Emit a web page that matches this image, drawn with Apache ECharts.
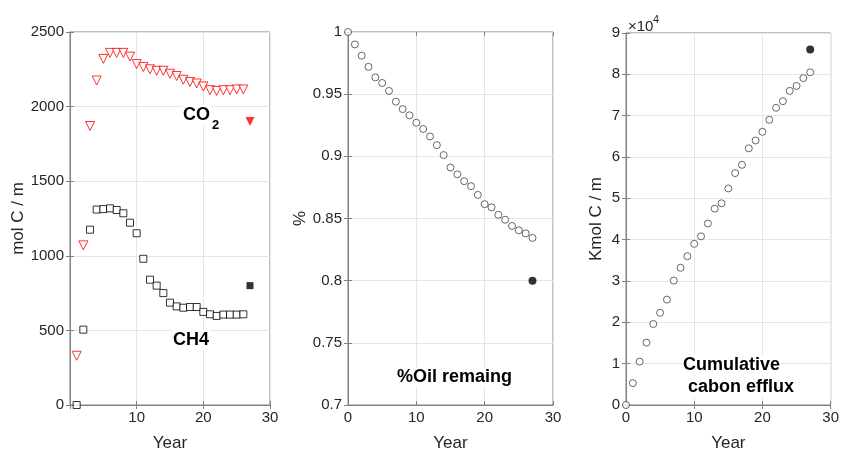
<!DOCTYPE html>
<html>
<head>
<meta charset="utf-8">
<script src="https://cdn.jsdelivr.net/npm/echarts@6/dist/echarts.min.js"></script>
<style>
  html, body { margin: 0; padding: 0; background: #fff; }
  #chart { width: 842px; height: 457px; }
</style>
</head>
<body>
<div id="chart"></div>
<script>
// panel 1 : gas produced (mol C / m)
let years1 = [1,2,3,4,5,6,7,8,9,10,11,12,13,14,15,16,17,18,19,20,21,22,23,24,25,26];
let co2Data = [330,1070,1870,2175,2320,2360,2360,2360,2335,2285,2265,2250,2240,2240,2220,2205,2180,2165,2155,2135,2110,2105,2110,2110,2115,2115];
let ch4Data = [0,505,1175,1310,1313,1318,1307,1285,1222,1151,980,840,800,750,686,661,652,657,657,624,608,597,606,606,606,608];
let co2Obs = [[27, 1900]];
let ch4Obs = [[27, 800]];

// panel 2 : fraction of oil remaining
let years2 = [0,1,2,3,4,5,6,7,8,9,10,11,12,13,14,15,16,17,18,19,20,21,22,23,24,25,26,27];
let oilData = [1.0,0.990,0.981,0.972,0.9635,0.959,0.9526,0.944,0.938,0.933,0.927,0.922,0.916,0.909,0.901,0.891,0.8855,0.880,0.876,0.869,0.8615,0.859,0.853,0.849,0.844,0.8405,0.838,0.8344];
let oilObs = [[27, 0.80]];

// panel 3 : cumulative carbon efflux (Kmol C / m)
let effluxData = [0,5300,10500,15100,19600,22300,25500,30100,33200,36000,39000,40800,43900,47500,48800,52400,56100,58100,62100,64000,66100,69000,71900,73500,76000,77200,79100,80500];
let effluxObs = [[27, 86000]];

let yTicks1 = {min: 0, max: 2500, interval: 500};
let yTicks2 = {min: 0.7, max: 1, interval: 0.05};
let yTicks3 = {min: 0, max: 90000, interval: 10000};

let axisGray = '#808080';
let labelColor = '#262626';
let fontFam = '"Liberation Sans", Arial, sans-serif';

let grids = [
	{left: 70, top: 32, width: 200, height: 375},
	{left: 348, top: 32, width: 205, height: 376},
	{left: 626, top: 33, width: 208, height: 379}
];

function pairs(xs, ys){
	return ys.map((v, i) => [xs[i], v]);
}

function xAxisFor(idx, hideMin){
	return {
		gridIndex: idx, type: 'value', min: 0, max: 30, interval: 10,
		name: 'Year', nameLocation: 'middle', nameGap: 30,
		nameTextStyle: {color: labelColor, fontSize: 17, fontFamily: fontFam},
		axisLine: {show: true, onZero: false, lineStyle: {color: axisGray}},
		axisTick: {show: true, inside: true, length: 4, lineStyle: {color: axisGray}},
		axisLabel: {color: labelColor, fontSize: 15, fontFamily: fontFam, margin: 5, showMinLabel: !hideMin},
		splitLine: {show: true, lineStyle: {color: '#e6e6e6'}}
	};
}

function yAxisFor(idx, ticks, name, gap, fmt){
	return {
		gridIndex: idx, type: 'value', min: ticks.min, max: ticks.max, interval: ticks.interval,
		name: name, nameLocation: 'middle', nameGap: gap,
		nameTextStyle: {color: labelColor, fontSize: 17, fontFamily: fontFam},
		axisLine: {show: true, onZero: false, lineStyle: {color: axisGray}},
		axisTick: {show: true, inside: true, length: 4, lineStyle: {color: axisGray}},
		axisLabel: {color: labelColor, fontSize: 15, fontFamily: fontFam, margin: 6, formatter: fmt},
		splitLine: {show: true, lineStyle: {color: '#e6e6e6'}}
	};
}

// top / right axes only carry the inward ticks of the box
function topAxis(idx){
	return {gridIndex: idx, type: 'value', position: 'top', min: 0, max: 30, interval: 10,
		axisLine: {show: false}, axisLabel: {show: false}, splitLine: {show: false},
		axisTick: {show: true, inside: true, length: 4, lineStyle: {color: axisGray}}};
}
function rightAxis(idx, ticks){
	return {gridIndex: idx, type: 'value', position: 'right', min: ticks.min, max: ticks.max, interval: ticks.interval,
		axisLine: {show: false}, axisLabel: {show: false}, splitLine: {show: false},
		axisTick: {show: true, inside: true, length: 4, lineStyle: {color: axisGray}}};
}

let hollow = (c) => ({color: '#fff', borderColor: c, borderWidth: 1});

// bold annotation with white box (hides grid lines behind it)
function note(x, y, text, size){
	return {type: 'text', x: x, y: y, z: 50, style: {text: text, font: 'bold ' + (size || 18) + 'px ' + fontFam,
		fill: '#000', verticalAlign: 'middle', backgroundColor: '#fff', padding: [1, 1]}};
}

let option = {
	animation: false,
	backgroundColor: '#fff',
	grid: grids.map(g => Object.assign({show: true, borderColor: axisGray, borderWidth: 1, backgroundColor: 'transparent'}, g)),
	xAxis: [xAxisFor(0, true), xAxisFor(1, false), xAxisFor(2, false), topAxis(0), topAxis(1), topAxis(2)],
	yAxis: [
		yAxisFor(0, yTicks1, 'mol C / m', 42, v => String(v)),
		yAxisFor(1, yTicks2, '%', 38, v => String(Math.round(v * 100) / 100)),
		yAxisFor(2, yTicks3, 'Kmol C / m', 21, v => String(Math.round(v / 10000))),
		rightAxis(0, yTicks1), rightAxis(1, yTicks2), rightAxis(2, yTicks3)
	],
	series: [
		{name: 'CO2', type: 'scatter', xAxisIndex: 0, yAxisIndex: 0, symbol: 'triangle', symbolRotate: 180,
			symbolSize: 9, itemStyle: hollow('#ff0000'), data: pairs(years1, co2Data)},
		{name: 'CO2 obs', type: 'scatter', xAxisIndex: 0, yAxisIndex: 0, symbol: 'triangle', symbolRotate: 180,
			symbolSize: 9, itemStyle: {color: '#ff0000'}, data: co2Obs},
		{name: 'CH4', type: 'scatter', xAxisIndex: 0, yAxisIndex: 0, symbol: 'rect',
			symbolSize: 7, itemStyle: hollow('#000'), data: pairs(years1, ch4Data)},
		{name: 'CH4 obs', type: 'scatter', xAxisIndex: 0, yAxisIndex: 0, symbol: 'rect',
			symbolSize: 7, itemStyle: {color: '#000'}, data: ch4Obs},
		{name: 'Oil', type: 'scatter', xAxisIndex: 1, yAxisIndex: 1, symbol: 'circle',
			symbolSize: 7, itemStyle: hollow('#444'), data: pairs(years2, oilData)},
		{name: 'Oil obs', type: 'scatter', xAxisIndex: 1, yAxisIndex: 1, symbol: 'circle',
			symbolSize: 8, itemStyle: {color: '#000'}, data: oilObs},
		{name: 'Efflux', type: 'scatter', xAxisIndex: 2, yAxisIndex: 2, symbol: 'circle',
			symbolSize: 7, itemStyle: hollow('#444'), data: pairs(years2, effluxData)},
		{name: 'Efflux obs', type: 'scatter', xAxisIndex: 2, yAxisIndex: 2, symbol: 'circle',
			symbolSize: 8, itemStyle: {color: '#000'}, data: effluxObs}
	],
	graphic: [
		note(182, 115, 'CO'),
		{type: 'text', x: 211, y: 125, z: 51, style: {text: '2', font: 'bold 13px ' + fontFam, fill: '#000',
			verticalAlign: 'middle', backgroundColor: '#fff', padding: [0, 1]}},
		note(172, 340, 'CH4'),
		note(396, 377, '%Oil remaing'),
		note(682, 365, 'Cumulative'),
		note(687, 387, 'cabon efflux'),
		{type: 'text', x: 628, y: 27, style: {text: '\u00d710', font: '15px ' + fontFam, fill: labelColor, verticalAlign: 'middle'}},
		{type: 'text', x: 653, y: 20, style: {text: '4', font: '11px ' + fontFam, fill: labelColor, verticalAlign: 'middle'}}
	]
};

let myChart = echarts.init(document.getElementById('chart'));
myChart.setOption(option);
</script>
</body>
</html>
